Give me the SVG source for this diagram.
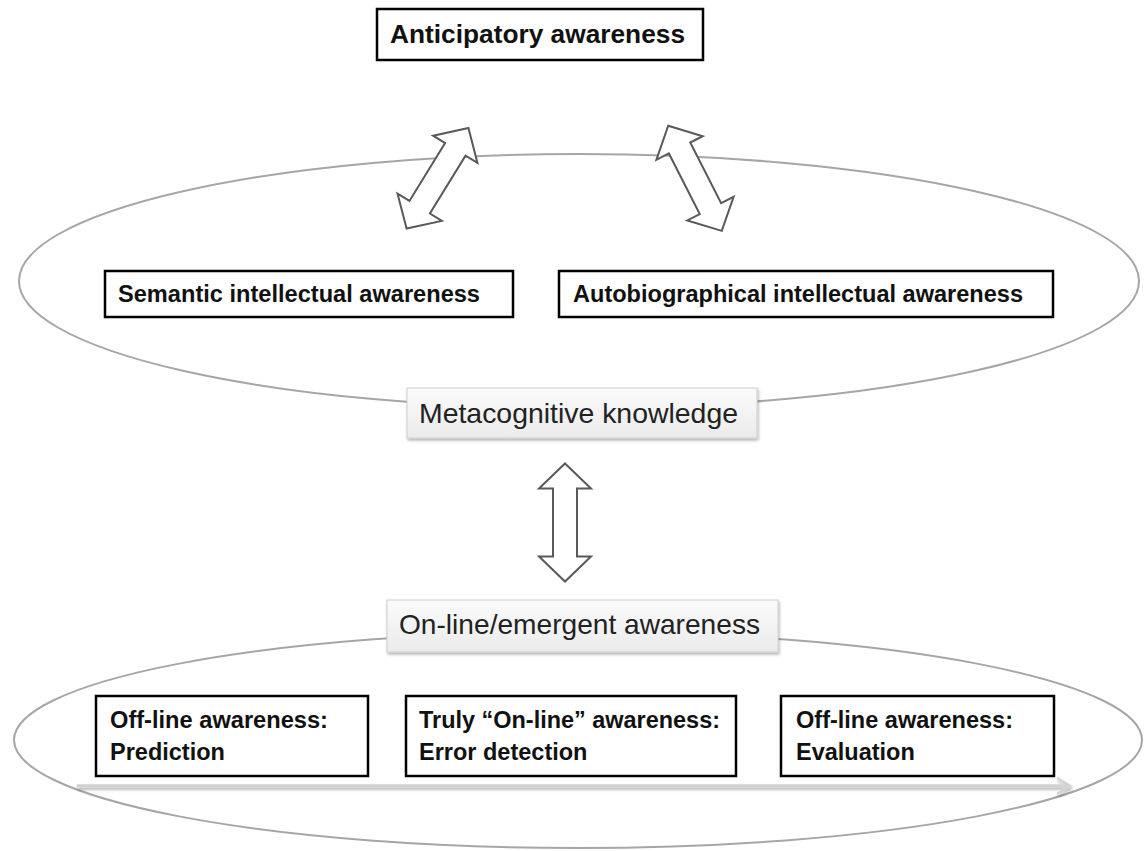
<svg xmlns="http://www.w3.org/2000/svg" width="1144" height="851" viewBox="0 0 1144 851">
<style>
.ell{fill:none;stroke:#a6a6a6;stroke-width:2}
.bx{fill:#fff;stroke:#000;stroke-width:2.5}
.b{font-family:"Liberation Sans",Arial,sans-serif;font-weight:bold;font-size:23.5px;fill:#111}
.r{font-family:"Liberation Sans",Arial,sans-serif;font-size:28px;fill:#222}
.lb{fill:url(#g);stroke:#cfcfcf;stroke-width:1}
.da{fill:#fff;stroke:#595959;stroke-width:2;stroke-linejoin:miter}
</style>
<defs>
<linearGradient id="g" x1="0" y1="0" x2="0" y2="1">
<stop offset="0" stop-color="#fbfbfb"/>
<stop offset="1" stop-color="#ebebeb"/>
</linearGradient>
<filter id="sh" x="-10%" y="-20%" width="120%" height="150%">
<feDropShadow dx="1" dy="2" stdDeviation="1.5" flood-color="#000" flood-opacity="0.3"/>
</filter>
<path id="dbl" d="M0,-59 L26,-34 L12,-34 L12,34 L26,34 L0,59 L-26,34 L-12,34 L-12,-34 L-26,-34 Z"/>
</defs>

<g id="top-ellipse"><ellipse class="ell" cx="579" cy="281" rx="560" ry="127"/></g>
<g id="bottom-ellipse"><ellipse class="ell" cx="578" cy="740" rx="564" ry="108"/></g>

<g id="connectors">
<use href="#dbl" class="da" transform="translate(437.5,178.3) rotate(31.6)"/>
<use href="#dbl" class="da" transform="translate(695,178.3) rotate(-27)"/>
<use href="#dbl" class="da" transform="translate(565,522.5)"/>
<g id="timeline" filter="url(#sh)">
<line x1="77" y1="786" x2="1068" y2="786" stroke="#d2d2d2" stroke-width="3.5"/>
<polyline points="1057,778 1070,786 1057,794" fill="none" stroke="#d2d2d2" stroke-width="2.5"/>
</g>
</g>

<g id="anticipatory">
<rect class="bx" x="377" y="9" width="326" height="51"/>
<text class="b" x="390" y="43" style="font-size:26px" textLength="295" lengthAdjust="spacingAndGlyphs">Anticipatory awareness</text>
</g>

<g id="semantic">
<rect class="bx" x="105" y="271" width="408" height="46"/>
<text class="b" x="118" y="302" textLength="362" lengthAdjust="spacingAndGlyphs">Semantic intellectual awareness</text>
</g>

<g id="autobiographical">
<rect class="bx" x="559" y="271" width="494" height="46"/>
<text class="b" x="573" y="302" textLength="450" lengthAdjust="spacingAndGlyphs">Autobiographical intellectual awareness</text>
</g>

<g id="metacognitive">
<rect class="lb" x="407" y="388" width="350" height="50" filter="url(#sh)"/>
<text class="r" x="419" y="423" textLength="319" lengthAdjust="spacingAndGlyphs">Metacognitive knowledge</text>
</g>

<g id="online">
<rect class="lb" x="387" y="600" width="391" height="52" filter="url(#sh)"/>
<text class="r" x="399" y="634" textLength="361" lengthAdjust="spacingAndGlyphs">On-line/emergent awareness</text>
</g>

<g id="prediction">
<rect class="bx" x="96" y="696" width="272" height="80"/>
<text class="b" x="110" y="728" textLength="218" lengthAdjust="spacingAndGlyphs">Off-line awareness:</text>
<text class="b" x="110" y="760">Prediction</text>
</g>

<g id="error-detection">
<rect class="bx" x="406" y="696" width="330" height="80"/>
<text class="b" x="419" y="728" textLength="301" lengthAdjust="spacingAndGlyphs">Truly “On-line” awareness:</text>
<text class="b" x="419" y="760">Error detection</text>
</g>

<g id="evaluation">
<rect class="bx" x="781" y="696" width="273" height="80"/>
<text class="b" x="796" y="728" textLength="217" lengthAdjust="spacingAndGlyphs">Off-line awareness:</text>
<text class="b" x="796" y="760">Evaluation</text>
</g>
</svg>
